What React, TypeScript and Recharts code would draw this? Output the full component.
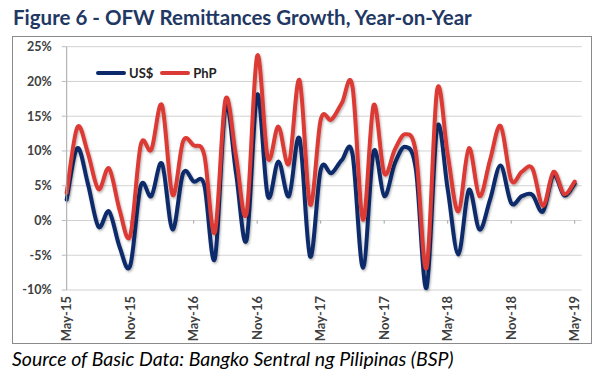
import React from "react";
import {
  LineChart, Line, XAxis, YAxis, CartesianGrid, ReferenceLine,
} from "recharts";

const MONTHS = [
  "May-15", "Jun-15", "Jul-15", "Aug-15", "Sep-15", "Oct-15", "Nov-15", "Dec-15",
  "Jan-16", "Feb-16", "Mar-16", "Apr-16", "May-16", "Jun-16", "Jul-16", "Aug-16",
  "Sep-16", "Oct-16", "Nov-16", "Dec-16", "Jan-17", "Feb-17", "Mar-17", "Apr-17",
  "May-17", "Jun-17", "Jul-17", "Aug-17", "Sep-17", "Oct-17", "Nov-17", "Dec-17",
  "Jan-18", "Feb-18", "Mar-18", "Apr-18", "May-18", "Jun-18", "Jul-18", "Aug-18",
  "Sep-18", "Oct-18", "Nov-18", "Dec-18", "Jan-19", "Feb-19", "Mar-19", "Apr-19",
  "May-19",
];

// growth, % year-on-year
const USD = [
  3.0, 10.4, 5.3, -0.9, 1.3, -3.8, -6.5, 5.0, 3.5, 8.2, -1.3, 6.8,
  5.6, 5.1, -5.5, 16.4, 6.8, -2.8, 18.1, 3.5, 8.5, 3.5, 11.8, -5.2,
  7.3, 6.8, 8.7, 9.6, -6.8, 9.9, 3.5, 8.2, 10.6, 7.3, -9.7, 13.4,
  4.5, -4.9, 4.4, -1.3, 3.0, 7.9, 2.5, 3.5, 3.7, 1.3, 6.6, 3.6, 5.3,
];
const PHP = [
  4.0, 13.4, 9.7, 4.5, 7.5, 1.5, -2.2, 10.9, 10.2, 16.6, 3.7, 11.4,
  10.8, 9.4, -1.7, 17.4, 9.2, 1.1, 23.7, 9.0, 13.5, 8.2, 20.2, 2.3,
  14.5, 14.5, 16.9, 19.3, 0.1, 16.6, 6.8, 10.2, 12.4, 9.7, -6.8, 18.8,
  9.5, 1.3, 10.4, 3.5, 8.7, 13.6, 5.8, 7.0, 7.5, 2.1, 7.0, 3.8, 5.6,
];

const TICK_LABELS = ["May-15", "Nov-15", "May-16", "Nov-16", "May-17", "Nov-17", "May-18", "Nov-18", "May-19"];
const Y_TICKS = [-10, -5, 0, 5, 10, 15, 20, 25];

const BLUE = "#0c2a6b";
const RED = "#dc3a34";
const FONT = "Lato, 'Open Sans', sans-serif";

const data = MONTHS.map((m, i) => ({ month: m, usd: USD[i], php: PHP[i] }));

// Excel-style smoothed line (Catmull-Rom through each point)
function excelSmooth(context: any) {
  let pts: number[][] = [];
  return {
    areaStart() {},
    areaEnd() {},
    lineStart() { pts = []; },
    point(x: number, y: number) { pts.push([+x, +y]); },
    lineEnd() {
      if (!pts.length) return;
      context.moveTo(pts[0][0], pts[0][1]);
      for (let i = 0; i < pts.length - 1; i++) {
        const p0 = pts[i - 1] || pts[i];
        const p1 = pts[i];
        const p2 = pts[i + 1];
        const p3 = pts[i + 2] || p2;
        context.bezierCurveTo(
          p1[0] + (p2[0] - p0[0]) / 6, p1[1] + (p2[1] - p0[1]) / 6,
          p2[0] - (p3[0] - p1[0]) / 6, p2[1] - (p3[1] - p1[1]) / 6,
          p2[0], p2[1],
        );
      }
    },
  };
}

function MonthTick({ x, y, payload }: any) {
  return (
    <g transform={`translate(${x},${y})`}>
      <text transform="rotate(-90)" textAnchor="end" dy="0.36em" fill="#404040"
        style={{ fontFamily: FONT, fontSize: 13, fontWeight: 700 }}>
        {payload.value}
      </text>
    </g>
  );
}

function LegendItem({ color, label }: { color: string; label: string }) {
  return (
    <div style={{ display: "flex", alignItems: "center", marginRight: 7 }}>
      <div style={{ width: 30, height: 4, borderRadius: 2, background: color, marginRight: 3 }} />
      <span>{label}</span>
    </div>
  );
}

export default function App() {
  return (
    <div style={{ position: "absolute", left: 0, top: 0, width: 605, height: 380, background: "#fff", fontFamily: FONT }}>
      <div style={{ position: "absolute", left: 13, top: 4, fontSize: 20.5, fontWeight: 700, color: "#1f3864", lineHeight: "26px", whiteSpace: "nowrap" }}>
        Figure 6 - OFW Remittances Growth, Year-on-Year
      </div>

      <div style={{ position: "absolute", left: 12, top: 36, width: 580, height: 308, border: "1px solid #8a8a8a", boxSizing: "border-box" }}>
        <LineChart width={578} height={306} data={data} margin={{ top: 9.7, right: 9.3, left: 0, bottom: 0 }}>
          <defs>
            <filter id="lineShadow" x="-5%" y="-10%" width="110%" height="130%">
              <feDropShadow dx="1" dy="1.5" stdDeviation="1" floodColor="#000" floodOpacity="0.3" />
            </filter>
          </defs>
          <CartesianGrid vertical={false} stroke="#d2d2d2" strokeWidth={1} />
          <XAxis
            dataKey="month"
            interval={5}
            axisLine={false}
            tickLine={false}
            tickSize={0}
            tickMargin={6}
            height={53}
            padding={{ left: 0, right: 7 }}
            tick={<MonthTick />}
          />
          <YAxis
            domain={[-10, 25]}
            ticks={Y_TICKS}
            width={53.7}
            tickFormatter={(v) => `${v}%`}
            axisLine={{ stroke: "#a6a6a6" }}
            tickLine={{ stroke: "#bdbdbd" }}
            tickSize={5}
            tickMargin={10}
            tick={{ fill: "#404040", fontSize: 12.5, fontWeight: 700, fontFamily: FONT }}
          />
          {TICK_LABELS.slice(1).map((m) => (
            <ReferenceLine key={m} segment={[{ x: m, y: 0 }, { x: m, y: -0.45 }]} stroke="#a0a0a0" />
          ))}
          <Line type={excelSmooth as any} dataKey="usd" stroke={BLUE} strokeWidth={4} dot={false}
            strokeLinecap="round" filter="url(#lineShadow)" isAnimationActive={false} />
          <Line type={excelSmooth as any} dataKey="php" stroke={RED} strokeWidth={4} dot={false}
            strokeLinecap="round" filter="url(#lineShadow)" isAnimationActive={false} />
        </LineChart>

        <div style={{ position: "absolute", left: 83, top: 28, display: "flex", fontSize: 13, fontWeight: 700, color: "#222", lineHeight: "16px" }}>
          <LegendItem color={BLUE} label="US$" />
          <LegendItem color={RED} label="PhP" />
        </div>
      </div>

      <div style={{ position: "absolute", left: 12, top: 347, fontSize: 19.5, fontStyle: "italic", color: "#000", lineHeight: "23px", whiteSpace: "nowrap" }}>
        Source of Basic Data: Bangko Sentral ng Pilipinas (BSP)
      </div>
    </div>
  );
}
